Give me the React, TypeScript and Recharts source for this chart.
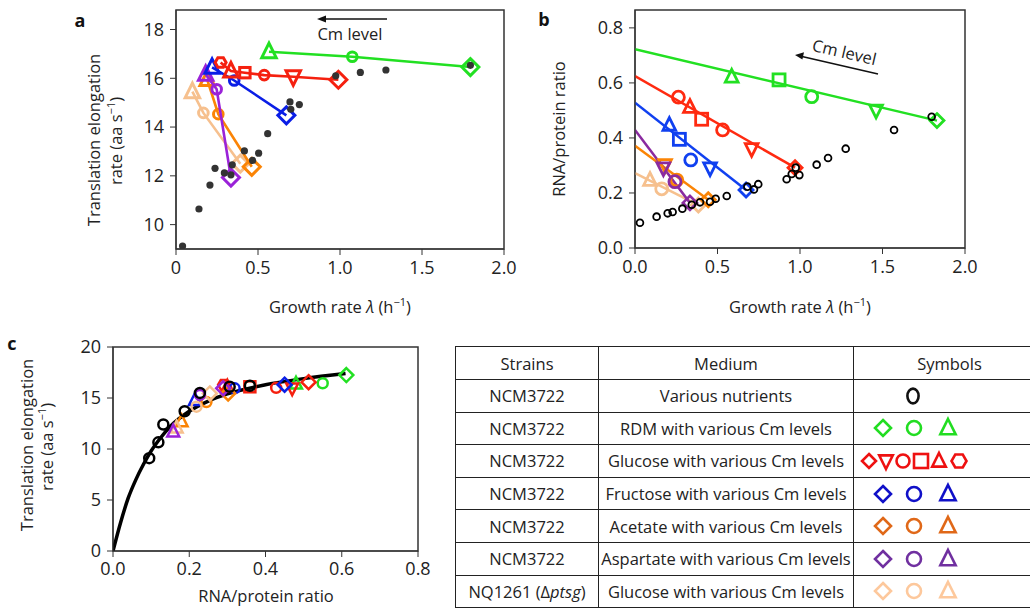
import React from 'react';
import { ComposedChart, Scatter, Line, XAxis, YAxis, ReferenceArea } from 'recharts';

type Kind = 'circle' | 'diamond' | 'square' | 'triangle' | 'triangleDown' | 'hexagon' | 'oval';

const GREEN = '#22e022';
const RED = '#f5200f';
const BLUE = '#0a1ee6';
const PURPLE = '#9a22d8';
const ORANGE = '#fb8405';
const TAN = '#f6c08e';
const INK = '#222';

// ---------- panel a: growth rate vs translation elongation rate
const nutrientGrowthA = [0.04, 0.14, 0.207, 0.238, 0.295, 0.335, 0.343, 0.417, 0.467, 0.504, 0.559, 0.695, 0.7, 0.752, 0.974, 1.124, 1.28, 1.795];
const nutrientRateA = [9.12, 10.64, 11.62, 12.31, 12.12, 12.04, 12.45, 13.02, 12.63, 12.93, 13.73, 15.03, 14.73, 14.92, 16.1, 16.24, 16.34, 16.53];

const rdmShapesA: Kind[] = ['triangle', 'circle', 'diamond'];
const rdmGrowthA = [0.567, 1.075, 1.795];
const rdmRateA = [17.09, 16.88, 16.46];

const glucoseShapesA: Kind[] = ['hexagon', 'triangle', 'square', 'circle', 'triangleDown', 'diamond'];
const glucoseGrowthA = [0.272, 0.335, 0.42, 0.538, 0.715, 0.99];
const glucoseRateA = [16.65, 16.3, 16.23, 16.13, 16.06, 15.94];

const fructoseShapesA: Kind[] = ['triangle', 'circle', 'diamond'];
const fructoseGrowthA = [0.22, 0.355, 0.673];
const fructoseRateA = [16.45, 15.91, 14.48];

const acetateShapesA: Kind[] = ['triangle', 'circle', 'diamond'];
const acetateGrowthA = [0.19, 0.258, 0.462];
const acetateRateA = [15.95, 14.53, 12.37];

const aspartateShapesA: Kind[] = ['triangle', 'circle', 'diamond'];
const aspartateGrowthA = [0.181, 0.248, 0.335];
const aspartateRateA = [16.16, 15.55, 11.93];

const ptsgShapesA: Kind[] = ['triangle', 'circle', 'diamond'];
const ptsgGrowthA = [0.1, 0.167, 0.392];
const ptsgRateA = [15.45, 14.58, 12.5];

// ---------- panel b: growth rate vs RNA/protein ratio
const nutrientGrowthB = [0.03, 0.131, 0.198, 0.228, 0.287, 0.344, 0.394, 0.455, 0.489, 0.556, 0.681, 0.721, 0.747, 0.919, 0.95, 0.996, 0.974, 1.101, 1.17, 1.277, 1.57, 1.798];
const nutrientRatioB = [0.092, 0.114, 0.126, 0.131, 0.143, 0.157, 0.166, 0.168, 0.179, 0.189, 0.223, 0.213, 0.232, 0.25, 0.269, 0.265, 0.292, 0.303, 0.327, 0.361, 0.429, 0.477];

const rdmShapesB: Kind[] = ['triangle', 'square', 'circle', 'triangleDown', 'diamond'];
const rdmGrowthB = [0.586, 0.873, 1.071, 1.461, 1.83];
const rdmRatioB = [0.622, 0.611, 0.55, 0.5, 0.463];
const rdmFitB = [0.7225, 0.463];

const glucoseShapesB: Kind[] = ['circle', 'triangle', 'square', 'circle', 'triangleDown', 'diamond'];
const glucoseGrowthB = [0.263, 0.333, 0.404, 0.531, 0.707, 0.97];
const glucoseRatioB = [0.548, 0.512, 0.468, 0.429, 0.36, 0.292];
const glucoseFitB = [0.625, 0.292];

const fructoseShapesB: Kind[] = ['triangle', 'square', 'circle', 'triangleDown', 'diamond'];
const fructoseGrowthB = [0.208, 0.269, 0.338, 0.455, 0.673];
const fructoseRatioB = [0.447, 0.395, 0.32, 0.29, 0.211];
const fructoseFitB = [0.528, 0.211];

const acetateShapesB: Kind[] = ['triangleDown', 'circle', 'diamond'];
const acetateGrowthB = [0.182, 0.253, 0.444];
const acetateRatioB = [0.302, 0.247, 0.175];
const acetateFitB = [0.372, 0.175];

const aspartateShapesB: Kind[] = ['triangleDown', 'circle', 'diamond'];
const aspartateGrowthB = [0.172, 0.242, 0.333];
const aspartateRatioB = [0.29, 0.241, 0.164];
const aspartateFitB = [0.429, 0.164];

const ptsgShapesB: Kind[] = ['triangle', 'circle', 'diamond'];
const ptsgGrowthB = [0.091, 0.162, 0.384];
const ptsgRatioB = [0.247, 0.215, 0.156];
const ptsgFitB = [0.272, 0.156];

// ---------- panel c: RNA/protein ratio vs translation elongation rate
const nutrientRatioC = [0.095, 0.119, 0.132, 0.188, 0.228, 0.306, 0.359];
const nutrientRateC = [9.1, 10.65, 12.4, 13.7, 15.5, 16.1, 16.2];

const rdmRatioC = [0.48, 0.55, 0.612];
const rdmRateC = [16.4, 16.45, 17.25];
const glucoseShapesC: Kind[] = ['hexagon', 'triangle', 'square', 'circle', 'triangleDown', 'diamond'];
const glucoseRatioC = [0.29, 0.3, 0.359, 0.428, 0.47, 0.513];
const glucoseRateC = [16.3, 16.1, 16.1, 16.0, 15.95, 16.55];
const fructoseRatioC = [0.215, 0.319, 0.45];
const fructoseRateC = [14.8, 15.95, 16.3];
const acetateRatioC = [0.18, 0.245, 0.302];
const acetateRateC = [12.7, 14.6, 15.45];
const aspartateRatioC = [0.158, 0.228, 0.289];
const aspartateRateC = [11.7, 15.3, 15.95];
const ptsgRatioC = [0.167, 0.219, 0.254];
const ptsgRateC = [12.1, 14.15, 15.45];
const cmShapesC: Kind[] = ['triangle', 'circle', 'diamond'];

const curveRatioC = [0, 0.02, 0.04, 0.06, 0.08, 0.1, 0.125, 0.15, 0.2, 0.25, 0.3, 0.4, 0.5, 0.61];
const curveRateC = [0, 2.8, 5.2, 7.0, 8.5, 9.8, 11.1, 12.2, 13.7, 14.7, 15.4, 16.3, 16.9, 17.4];

// ---------- table
const strainNames = ['NCM3722', 'NCM3722', 'NCM3722', 'NCM3722', 'NCM3722', 'NCM3722', 'NQ1261 (Δptsg)'];
const mediumNames = [
  'Various nutrients',
  'RDM with various Cm levels',
  'Glucose with various Cm levels',
  'Fructose with various Cm levels',
  'Acetate with various Cm levels',
  'Aspartate with various Cm levels',
  'Glucose with various Cm levels',
];
const rowSymbols: Kind[][] = [
  ['oval'],
  ['diamond', 'circle', 'triangle'],
  ['diamond', 'triangleDown', 'circle', 'square', 'triangle', 'hexagon'],
  ['diamond', 'circle', 'triangle'],
  ['diamond', 'circle', 'triangle'],
  ['diamond', 'circle', 'triangle'],
  ['diamond', 'circle', 'triangle'],
];
const rowColors = ['#111', '#22dd22', '#ee1111', '#1010c8', '#e06818', '#7030a0', '#fdc89c'];

type Pt = { x: number; y: number; kind: Kind };
const pts = (xs: number[], ys: number[], kinds?: Kind[]): Pt[] =>
  xs.map((x, i) => ({ x, y: ys[i], kind: kinds ? kinds[i] : 'circle' }));

type Sizes = { diamond: number; triangle: number; circle: number; square: number; hexagon: number; w: number };
const sizeA: Sizes = { diamond: 8.5, triangle: 8.5, circle: 4.8, square: 5.2, hexagon: 5.5, w: 3 };
const sizeB: Sizes = { diamond: 7, triangle: 7.5, circle: 6, square: 6, hexagon: 6, w: 2.8 };
const sizeC: Sizes = { diamond: 7, triangle: 7, circle: 5, square: 5.5, hexagon: 5.5, w: 2.5 };
const sizeT: Sizes = { diamond: 8, triangle: 9, circle: 7, square: 7, hexagon: 7.5, w: 2.6 };

function Mark({ kind, cx, cy, color, sz }: { kind: Kind; cx: number; cy: number; color: string; sz: Sizes }) {
  const p = { fill: 'none', stroke: color, strokeWidth: sz.w };
  if (kind === 'circle') return <circle cx={cx} cy={cy} r={sz.circle} {...p} />;
  if (kind === 'oval') return <ellipse cx={cx} cy={cy} rx={sz.circle * 0.8} ry={sz.circle * 1.05} {...p} />;
  if (kind === 'square') {
    const h = sz.square;
    return <rect x={cx - h} y={cy - h} width={2 * h} height={2 * h} {...p} />;
  }
  if (kind === 'diamond') {
    const s = sz.diamond;
    return <polygon points={`${cx},${cy - s} ${cx + s},${cy} ${cx},${cy + s} ${cx - s},${cy}`} {...p} />;
  }
  if (kind === 'triangle' || kind === 'triangleDown') {
    const s = sz.triangle;
    const d = kind === 'triangle' ? 1 : -1;
    return (
      <polygon
        points={`${cx},${cy - d * s} ${cx + 0.85 * s},${cy + d * 0.7 * s} ${cx - 0.85 * s},${cy + d * 0.7 * s}`}
        {...p}
      />
    );
  }
  const r = sz.hexagon;
  const hex = [0, 1, 2, 3, 4, 5]
    .map((k) => `${cx + r * Math.cos((k * Math.PI) / 3)},${cy + r * Math.sin((k * Math.PI) / 3)}`)
    .join(' ');
  return <polygon points={hex} {...p} />;
}

const shapeOf = (color: string, sz: Sizes) => (props: any) => {
  const { cx, cy, payload } = props;
  if (cx == null || cy == null) return <g />;
  return <Mark kind={payload.kind} cx={cx} cy={cy} color={color} sz={sz} />;
};

const seriesA = [
  { color: TAN, data: pts(ptsgGrowthA, ptsgRateA, ptsgShapesA) },
  { color: ORANGE, data: pts(acetateGrowthA, acetateRateA, acetateShapesA) },
  { color: PURPLE, data: pts(aspartateGrowthA, aspartateRateA, aspartateShapesA) },
  { color: BLUE, data: pts(fructoseGrowthA, fructoseRateA, fructoseShapesA) },
  { color: RED, data: pts(glucoseGrowthA, glucoseRateA, glucoseShapesA) },
  { color: GREEN, data: pts(rdmGrowthA, rdmRateA, rdmShapesA) },
];

const fitLine = (xs: number[], fit: number[]) => [
  { x: 0, y: fit[0] },
  { x: xs[xs.length - 1], y: fit[1] },
];

const seriesB = [
  { color: TAN, data: pts(ptsgGrowthB, ptsgRatioB, ptsgShapesB), fit: fitLine(ptsgGrowthB, ptsgFitB) },
  { color: ORANGE, data: pts(acetateGrowthB, acetateRatioB, acetateShapesB), fit: fitLine(acetateGrowthB, acetateFitB) },
  { color: '#8a2aa0', data: pts(aspartateGrowthB, aspartateRatioB, aspartateShapesB), fit: fitLine(aspartateGrowthB, aspartateFitB) },
  { color: '#1040f0', data: pts(fructoseGrowthB, fructoseRatioB, fructoseShapesB), fit: fitLine(fructoseGrowthB, fructoseFitB) },
  { color: '#ff2a10', data: pts(glucoseGrowthB, glucoseRatioB, glucoseShapesB), fit: fitLine(glucoseGrowthB, glucoseFitB) },
  { color: GREEN, data: pts(rdmGrowthB, rdmRatioB, rdmShapesB), fit: fitLine(rdmGrowthB, rdmFitB) },
];

const seriesC = [
  { color: GREEN, data: pts(rdmRatioC, rdmRateC, cmShapesC) },
  { color: RED, data: pts(glucoseRatioC, glucoseRateC, glucoseShapesC) },
  { color: BLUE, data: pts(fructoseRatioC, fructoseRateC, cmShapesC) },
  { color: ORANGE, data: pts(acetateRatioC, acetateRateC, cmShapesC) },
  { color: TAN, data: pts(ptsgRatioC, ptsgRateC, cmShapesC) },
  { color: PURPLE, data: pts(aspartateRatioC, aspartateRateC, cmShapesC) },
];

const tickStyle = { fontSize: 18, fill: INK };
const fix1 = (v: number) => v.toFixed(1);

const blackDot = (props: any) =>
  props.cx == null ? <g /> : <circle cx={props.cx} cy={props.cy} r={3.6} fill="#333" />;
const blackRing = (r: number, w: number) => (props: any) =>
  props.cx == null ? <g /> : <circle cx={props.cx} cy={props.cy} r={r} fill="none" stroke="#000" strokeWidth={w} />;

function PanelA() {
  return (
    <ComposedChart width={520} height={300} margin={{ top: 10, right: 16, bottom: 21, left: 116 }}>
      <XAxis dataKey="x" type="number" domain={[0, 2]} ticks={[0, 0.5, 1, 1.5, 2]}
        tickFormatter={(v) => (v === 0 ? '0' : v.toFixed(1))} tick={tickStyle} tickSize={6} tickMargin={6}
        stroke="#333" height={30} allowDataOverflow />
      <YAxis dataKey="y" type="number" domain={[9, 18.8]} ticks={[10, 12, 14, 16, 18]} tick={tickStyle}
        tickSize={6} tickMargin={6} stroke="#333" width={60} allowDataOverflow />
      <ReferenceArea x1={0} x2={2} y1={9} y2={18.8} fill="none" stroke="#333" strokeWidth={1.5} />
      {seriesA.map((s, i) => (
        <Scatter key={i} data={s.data} line={{ stroke: s.color, strokeWidth: 2.6 }} lineType="joint"
          shape={shapeOf(s.color, sizeA)} isAnimationActive={false} />
      ))}
      <Scatter data={pts(nutrientGrowthA, nutrientRateA)} shape={blackDot} isAnimationActive={false} />
    </ComposedChart>
  );
}

function PanelB() {
  return (
    <ComposedChart width={470} height={300} margin={{ top: 10, right: 25, bottom: 22, left: 55 }}>
      <XAxis dataKey="x" type="number" domain={[0, 2]} ticks={[0, 0.5, 1, 1.5, 2]} tickFormatter={fix1}
        tick={tickStyle} tickSize={6} tickMargin={6} stroke="#333" height={30} allowDataOverflow />
      <YAxis dataKey="y" type="number" domain={[0, 0.865]} ticks={[0, 0.2, 0.4, 0.6, 0.8]} tickFormatter={fix1}
        tick={tickStyle} tickSize={6} tickMargin={6} stroke="#333" width={60} allowDataOverflow />
      <ReferenceArea x1={0} x2={2} y1={0} y2={0.865} fill="none" stroke="#333" strokeWidth={1.5} />
      {seriesB.map((s, i) => (
        <Line key={'f' + i} data={s.fit} dataKey="y" type="linear" stroke={s.color} strokeWidth={2.5}
          dot={false} activeDot={false} isAnimationActive={false} />
      ))}
      {seriesB.map((s, i) => (
        <Scatter key={'s' + i} data={s.data} shape={shapeOf(s.color, sizeB)} isAnimationActive={false} />
      ))}
      <Scatter data={pts(nutrientGrowthB, nutrientRatioB)} shape={blackRing(3.4, 1.8)} isAnimationActive={false} />
    </ComposedChart>
  );
}

function PanelC() {
  return (
    <ComposedChart width={440} height={278} margin={{ top: 17, right: 22, bottom: 27, left: 53 }}>
      <XAxis dataKey="x" type="number" domain={[0, 0.8]} ticks={[0, 0.2, 0.4, 0.6, 0.8]} tickFormatter={fix1}
        tick={tickStyle} tickSize={6} tickMargin={5} stroke="#333" height={30} allowDataOverflow />
      <YAxis dataKey="y" type="number" domain={[0, 20]} ticks={[0, 5, 10, 15, 20]} tick={tickStyle}
        tickSize={6} tickMargin={6} stroke="#333" width={60} allowDataOverflow />
      <ReferenceArea x1={0} x2={0.8} y1={0} y2={20} fill="none" stroke="#333" strokeWidth={1.5} />
      {seriesC.map((s, i) => (
        <Scatter key={i} data={s.data} shape={shapeOf(s.color, sizeC)} isAnimationActive={false} />
      ))}
      <Scatter data={pts(nutrientRatioC, nutrientRateC)} shape={blackRing(5, 2.5)} isAnimationActive={false} />
      <Line data={pts(curveRatioC, curveRateC)} dataKey="y" type="monotone" stroke="#000" strokeWidth={3.5}
        dot={false} activeDot={false} isAnimationActive={false} />
    </ComposedChart>
  );
}

function Strain({ name }: { name: string }) {
  const m = name.match(/^(.*Δ)(\w+)(\).*)$/);
  if (!m) return <>{name}</>;
  return (
    <>
      {m[1]}
      <i>{m[2]}</i>
      {m[3]}
    </>
  );
}

function SymbolCell({ kinds, color }: { kinds: Kind[]; color: string }) {
  const xs =
    kinds.length === 1 ? [59] : kinds.length === 3 ? [29, 60, 94] : [15, 32, 49, 67, 85, 105];
  const sz = kinds.length === 6 ? { ...sizeT, diamond: 7, triangle: 8, circle: 6.5, square: 7, hexagon: 7.5 } : sizeT;
  return (
    <svg width={180} height={26} style={{ display: 'block' }}>
      {kinds.map((k, i) => (
        <Mark key={i} kind={k} cx={xs[i]} cy={13} color={color} sz={sz} />
      ))}
    </svg>
  );
}

function Table() {
  const cell: React.CSSProperties = {
    border: '1.5px solid #222',
    textAlign: 'center',
    padding: 0,
    fontSize: 16.5,
    color: INK,
    whiteSpace: 'nowrap',
  };
  return (
    <table style={{ borderCollapse: 'collapse', tableLayout: 'fixed', width: 590 }}>
      <colgroup>
        <col style={{ width: 143 }} />
        <col style={{ width: 255 }} />
        <col style={{ width: 192 }} />
      </colgroup>
      <tbody>
        <tr style={{ height: 33 }}>
          <td style={cell}>Strains</td>
          <td style={cell}>Medium</td>
          <td style={cell}>Symbols</td>
        </tr>
        {strainNames.map((s, i) => (
          <tr key={i} style={{ height: 32.6 }}>
            <td style={cell}>
              <Strain name={s} />
            </td>
            <td style={cell}>{mediumNames[i]}</td>
            <td style={{ ...cell, textAlign: 'left' }}>
              <SymbolCell kinds={rowSymbols[i]} color={rowColors[i]} />
            </td>
          </tr>
        ))}
      </tbody>
    </table>
  );
}

function Overlay() {
  const t = { fontSize: 16.5, fill: INK };
  const sup = (s: string) => (
    <tspan fontSize={11} dy={-7}>
      {s}
    </tspan>
  );
  return (
    <svg width={1030} height={608} style={{ position: 'absolute', left: 0, top: 0, pointerEvents: 'none' }}>
      <text x={80} y={27} fontSize={18} fontWeight="bold" textAnchor="middle" fill="#111">a</text>
      <text x={544} y={26} fontSize={18} fontWeight="bold" textAnchor="middle" fill="#111">b</text>
      <text x={12} y={350} fontSize={18} fontWeight="bold" textAnchor="middle" fill="#111">c</text>

      <text transform="translate(100,140) rotate(-90)" textAnchor="middle" {...t}>Translation elongation</text>
      <text transform="translate(122,141) rotate(-90)" textAnchor="middle" {...t}>
        rate (aa s{sup('−1')}<tspan dy={7}>)</tspan>
      </text>
      <text x={340} y={313} textAnchor="middle" {...t}>
        Growth rate <tspan fontStyle="italic">λ</tspan> (h{sup('−1')}<tspan dy={7}>)</tspan>
      </text>

      <text transform="translate(565,129) rotate(-90)" textAnchor="middle" {...t}>RNA/protein ratio</text>
      <text x={800} y={313} textAnchor="middle" {...t}>
        Growth rate <tspan fontStyle="italic">λ</tspan> (h{sup('−1')}<tspan dy={7}>)</tspan>
      </text>

      <text transform="translate(33,445) rotate(-90)" textAnchor="middle" {...t}>Translation elongation</text>
      <text transform="translate(53,447) rotate(-90)" textAnchor="middle" {...t}>
        rate (aa s{sup('−1')}<tspan dy={7}>)</tspan>
      </text>
      <text x={266} y={602} textAnchor="middle" {...t}>RNA/protein ratio</text>

      {/* Cm level arrows */}
      <line x1={387} y1={19} x2={324} y2={19} stroke="#111" strokeWidth={1.5} />
      <polygon points="317,19 326,15.5 326,22.5" fill="#111" />
      <text x={350} y={40} textAnchor="middle" {...t}>Cm level</text>

      <line x1={878} y1={74} x2={802} y2={56.5} stroke="#111" strokeWidth={1.5} />
      <polygon points="795,55 804,52.3 802.4,59.4" fill="#111" />
      <text transform="translate(843,58) rotate(13)" textAnchor="middle" {...t}>Cm level</text>
    </svg>
  );
}

export default function App() {
  return (
    <div
      style={{
        position: 'absolute',
        left: 0,
        top: 0,
        width: 1030,
        height: 608,
        overflow: 'hidden',
        background: '#fff',
        fontFamily: "'Open Sans', sans-serif",
      }}
    >
      <div style={{ position: 'absolute', left: 0, top: 0 }}>
        <PanelA />
      </div>
      <div style={{ position: 'absolute', left: 520, top: 0 }}>
        <PanelB />
      </div>
      <div style={{ position: 'absolute', left: 0, top: 330 }}>
        <PanelC />
      </div>
      <div style={{ position: 'absolute', left: 455, top: 346 }}>
        <Table />
      </div>
      <Overlay />
    </div>
  );
}
